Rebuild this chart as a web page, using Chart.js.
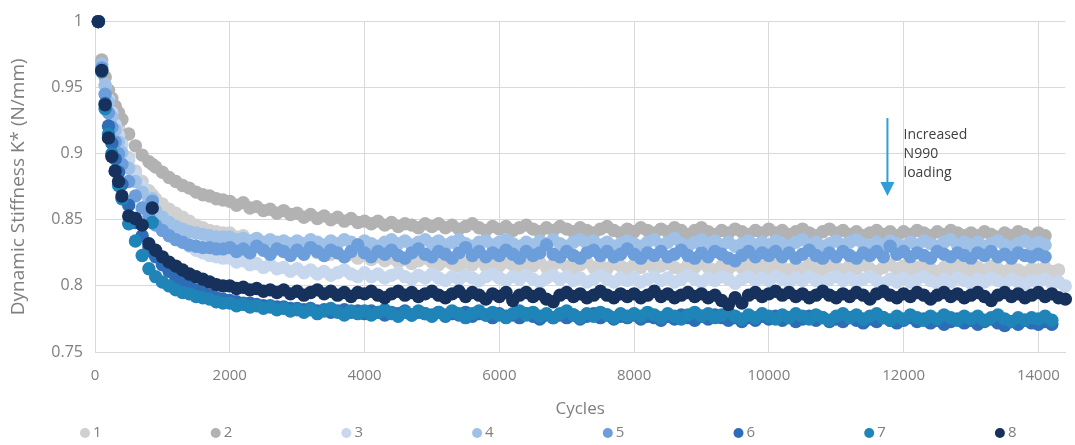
<!DOCTYPE html>
<html>
<head>
<meta charset="utf-8">
<script src="https://cdn.jsdelivr.net/npm/chart.js@4"></script>
<style>
  html, body { margin: 0; padding: 0; background: #fff; }
  #wrap { width: 1075px; height: 445px; }
</style>
</head>
<body>
<div id="wrap"><canvas id="stiffChart"></canvas></div>
<script>
// cycle counts shared by all series (some series run a little longer)
const cycles = [
  50, 100, 150, 200, 250, 300, 350, 400, 500, 600, 700, 800, 850, 900,
  1000, 1100, 1200, 1300, 1400, 1500, 1600, 1700, 1800, 1900,
  2000, 2100, 2200, 2300, 2400, 2500, 2600, 2700, 2800, 2900,
  3000, 3100, 3200, 3300, 3400, 3500, 3600, 3700, 3800, 3900,
  4000, 4100, 4200, 4300, 4400, 4500, 4600, 4700, 4800, 4900,
  5000, 5100, 5200, 5300, 5400, 5500, 5600, 5700, 5800, 5900,
  6000, 6100, 6200, 6300, 6400, 6500, 6600, 6700, 6800, 6900,
  7000, 7100, 7200, 7300, 7400, 7500, 7600, 7700, 7800, 7900,
  8000, 8100, 8200, 8300, 8400, 8500, 8600, 8700, 8800, 8900,
  9000, 9100, 9200, 9300, 9400, 9500, 9600, 9700, 9800, 9900,
  10000, 10100, 10200, 10300, 10400, 10500, 10600, 10700, 10800, 10900,
  11000, 11100, 11200, 11300, 11400, 11500, 11600, 11700, 11800, 11900,
  12000, 12100, 12200, 12300, 12400, 12500, 12600, 12700, 12800, 12900,
  13000, 13100, 13200, 13300, 13400, 13500, 13600, 13700, 13800, 13900,
  14000, 14100, 14200, 14300, 14400
];

const xTicks = [0, 2000, 4000, 6000, 8000, 10000, 12000, 14000];
const labels = ['1', '2', '3', '4', '5', '6', '7', '8'];
const colors = ['#d0d0d0', '#b2b2b2', '#c6d7ee', '#9fc1e7', '#6c9edb', '#2e6db5', '#1f84b7', '#15315c'];

const s1 = [1.000, 0.968, 0.958, 0.948, 0.938, 0.929, 0.920, 0.912, 0.897, 0.887, 0.879, 0.872, 0.869, 0.866,
  0.862, 0.858, 0.855, 0.852, 0.849, 0.846, 0.844, 0.842, 0.841, 0.840,
  0.840, 0.837, 0.838, 0.834, 0.835, 0.832, 0.833, 0.830, 0.831, 0.828,
  0.830, 0.827, 0.828, 0.825, 0.827, 0.824, 0.825, 0.822, 0.824, 0.821,
  0.823, 0.820, 0.822, 0.819, 0.821, 0.818, 0.820, 0.817, 0.819, 0.821,
  0.818, 0.816, 0.819, 0.817, 0.815, 0.818, 0.816, 0.819, 0.815, 0.817,
  0.815, 0.818, 0.816, 0.814, 0.817, 0.815, 0.818, 0.814, 0.816, 0.818,
  0.815, 0.813, 0.816, 0.818, 0.814, 0.816, 0.813, 0.817, 0.815, 0.813,
  0.816, 0.814, 0.817, 0.813, 0.815, 0.817, 0.814, 0.812, 0.816, 0.814,
  0.817, 0.814, 0.812, 0.815, 0.813, 0.816, 0.814, 0.817, 0.813, 0.815,
  0.813, 0.816, 0.814, 0.812, 0.815, 0.813, 0.816, 0.814, 0.812, 0.815,
  0.814, 0.812, 0.815, 0.813, 0.816, 0.813, 0.811, 0.814, 0.816, 0.813,
  0.815, 0.812, 0.814, 0.816, 0.813, 0.811, 0.814, 0.812, 0.815, 0.813,
  0.811, 0.814, 0.812, 0.815, 0.813, 0.811, 0.814, 0.812, 0.810, 0.813,
  0.812, 0.814, 0.811, 0.812];
const s2 = [1.000, 0.971, 0.958, 0.948, 0.942, 0.936, 0.931, 0.926, 0.915, 0.906, 0.899, 0.894, 0.892, 0.890,
  0.886, 0.882, 0.879, 0.876, 0.874, 0.871, 0.869, 0.868, 0.866, 0.865,
  0.864, 0.861, 0.863, 0.859, 0.860, 0.857, 0.858, 0.855, 0.857, 0.854,
  0.855, 0.852, 0.854, 0.851, 0.853, 0.850, 0.852, 0.849, 0.851, 0.848,
  0.849, 0.847, 0.849, 0.846, 0.848, 0.845, 0.847, 0.846, 0.844, 0.847,
  0.845, 0.847, 0.844, 0.846, 0.843, 0.845, 0.847, 0.844, 0.842, 0.845,
  0.843, 0.845, 0.842, 0.844, 0.846, 0.843, 0.841, 0.844, 0.842, 0.845,
  0.843, 0.841, 0.844, 0.842, 0.840, 0.843, 0.845, 0.842, 0.840, 0.843,
  0.841, 0.844, 0.842, 0.840, 0.843, 0.841, 0.844, 0.842, 0.839, 0.842,
  0.844, 0.841, 0.839, 0.842, 0.840, 0.843, 0.841, 0.839, 0.842, 0.840,
  0.843, 0.840, 0.842, 0.839, 0.841, 0.843, 0.840, 0.838, 0.841, 0.843,
  0.840, 0.842, 0.839, 0.841, 0.838, 0.840, 0.842, 0.839, 0.841, 0.838,
  0.841, 0.839, 0.842, 0.840, 0.838, 0.841, 0.839, 0.842, 0.840, 0.838,
  0.840, 0.838, 0.841, 0.839, 0.837, 0.840, 0.838, 0.841, 0.839, 0.837,
  0.840, 0.838];
const s3 = [1.000, 0.966, 0.952, 0.941, 0.931, 0.922, 0.914, 0.907, 0.895, 0.884, 0.875, 0.866, 0.861, 0.857,
  0.850, 0.844, 0.838, 0.834, 0.830, 0.827, 0.825, 0.823, 0.822, 0.821,
  0.821, 0.818, 0.819, 0.816, 0.817, 0.814, 0.816, 0.813, 0.814, 0.811,
  0.813, 0.810, 0.812, 0.809, 0.811, 0.808, 0.810, 0.812, 0.809, 0.807,
  0.810, 0.807, 0.809, 0.806, 0.808, 0.810, 0.807, 0.805, 0.808, 0.806,
  0.809, 0.806, 0.804, 0.807, 0.805, 0.808, 0.806, 0.804, 0.807, 0.809,
  0.806, 0.804, 0.807, 0.805, 0.808, 0.805, 0.803, 0.806, 0.808, 0.805,
  0.807, 0.804, 0.806, 0.803, 0.805, 0.808, 0.805, 0.803, 0.806, 0.804,
  0.806, 0.803, 0.805, 0.807, 0.804, 0.806, 0.803, 0.805, 0.808, 0.805,
  0.803, 0.806, 0.804, 0.807, 0.805, 0.802, 0.805, 0.807, 0.804, 0.806,
  0.804, 0.807, 0.805, 0.803, 0.806, 0.804, 0.807, 0.804, 0.802, 0.805,
  0.807, 0.804, 0.806, 0.803, 0.805, 0.807, 0.804, 0.802, 0.805, 0.803,
  0.806, 0.803, 0.805, 0.807, 0.804, 0.802, 0.805, 0.803, 0.806, 0.804,
  0.802, 0.805, 0.803, 0.806, 0.804, 0.802, 0.805, 0.803, 0.801, 0.804,
  0.803, 0.805, 0.802, 0.803, 0.800];
const s4 = [1.000, 0.968, 0.952, 0.939, 0.928, 0.918, 0.909, 0.901, 0.889, 0.879, 0.871, 0.864, 0.866, 0.857,
  0.852, 0.848, 0.845, 0.843, 0.841, 0.840, 0.839, 0.838, 0.837, 0.837,
  0.837, 0.835, 0.836, 0.834, 0.836, 0.833, 0.835, 0.833, 0.834, 0.832,
  0.834, 0.832, 0.835, 0.833, 0.831, 0.834, 0.832, 0.835, 0.833, 0.831,
  0.834, 0.832, 0.830, 0.833, 0.835, 0.832, 0.834, 0.831, 0.833, 0.835,
  0.832, 0.834, 0.831, 0.833, 0.835, 0.832, 0.830, 0.833, 0.834, 0.831,
  0.833, 0.835, 0.832, 0.830, 0.833, 0.831, 0.834, 0.832, 0.835, 0.832,
  0.830, 0.833, 0.835, 0.832, 0.834, 0.831, 0.833, 0.830, 0.832, 0.834,
  0.832, 0.830, 0.833, 0.835, 0.831, 0.833, 0.836, 0.832, 0.830, 0.833,
  0.835, 0.832, 0.834, 0.831, 0.833, 0.830, 0.832, 0.834, 0.831, 0.833,
  0.831, 0.834, 0.832, 0.830, 0.833, 0.835, 0.831, 0.833, 0.830, 0.832,
  0.834, 0.831, 0.833, 0.835, 0.832, 0.830, 0.833, 0.831, 0.834, 0.832,
  0.830, 0.833, 0.831, 0.834, 0.832, 0.830, 0.833, 0.835, 0.831, 0.833,
  0.831, 0.833, 0.830, 0.832, 0.834, 0.831, 0.829, 0.832, 0.834, 0.831,
  0.833, 0.831];
const s5 = [1.000, 0.965, 0.945, 0.931, 0.920, 0.909, 0.900, 0.892, 0.879, 0.868, 0.859, 0.852, 0.864, 0.846,
  0.842, 0.838, 0.835, 0.833, 0.831, 0.830, 0.829, 0.829, 0.828, 0.828,
  0.829, 0.826, 0.828, 0.825, 0.830, 0.827, 0.824, 0.828, 0.826, 0.823,
  0.827, 0.824, 0.829, 0.826, 0.823, 0.827, 0.825, 0.822, 0.826, 0.831,
  0.825, 0.822, 0.826, 0.824, 0.827, 0.823, 0.821, 0.825, 0.828, 0.824,
  0.822, 0.826, 0.824, 0.821, 0.825, 0.829, 0.823, 0.826, 0.822, 0.825,
  0.823, 0.827, 0.824, 0.821, 0.826, 0.823, 0.825, 0.831, 0.824, 0.822,
  0.826, 0.823, 0.821, 0.825, 0.827, 0.823, 0.826, 0.822, 0.824, 0.828,
  0.824, 0.821, 0.825, 0.823, 0.826, 0.822, 0.824, 0.827, 0.823, 0.821,
  0.825, 0.822, 0.826, 0.824, 0.821, 0.819, 0.823, 0.826, 0.822, 0.825,
  0.823, 0.826, 0.822, 0.825, 0.821, 0.824, 0.827, 0.823, 0.821, 0.825,
  0.822, 0.826, 0.823, 0.821, 0.825, 0.823, 0.826, 0.822, 0.830, 0.824,
  0.826, 0.822, 0.825, 0.823, 0.821, 0.826, 0.824, 0.822, 0.825, 0.823,
  0.821, 0.825, 0.823, 0.826, 0.822, 0.824, 0.821, 0.825, 0.823, 0.822,
  0.824, 0.822];
const s6 = [1.000, 0.963, 0.938, 0.921, 0.908, 0.896, 0.886, 0.877, 0.861, 0.848, 0.838, 0.829, 0.826, 0.822,
  0.816, 0.811, 0.806, 0.803, 0.800, 0.797, 0.795, 0.793, 0.791, 0.790,
  0.789, 0.788, 0.787, 0.787, 0.786, 0.785, 0.785, 0.784, 0.784, 0.783,
  0.783, 0.782, 0.783, 0.781, 0.782, 0.780, 0.781, 0.782, 0.780, 0.781,
  0.779, 0.781, 0.780, 0.778, 0.780, 0.779, 0.781, 0.778, 0.780, 0.779,
  0.778, 0.780, 0.777, 0.779, 0.778, 0.780, 0.777, 0.779, 0.778, 0.776,
  0.779, 0.777, 0.778, 0.776, 0.779, 0.777, 0.775, 0.778, 0.776, 0.778,
  0.776, 0.778, 0.775, 0.777, 0.779, 0.776, 0.778, 0.775, 0.777, 0.776,
  0.778, 0.775, 0.777, 0.776, 0.774, 0.777, 0.775, 0.778, 0.776, 0.774,
  0.777, 0.775, 0.778, 0.776, 0.774, 0.776, 0.773, 0.776, 0.774, 0.777,
  0.775, 0.777, 0.774, 0.776, 0.773, 0.775, 0.777, 0.774, 0.776, 0.773,
  0.775, 0.773, 0.776, 0.774, 0.772, 0.775, 0.773, 0.776, 0.774, 0.772,
  0.774, 0.776, 0.773, 0.775, 0.772, 0.774, 0.771, 0.773, 0.775, 0.772,
  0.774, 0.771, 0.773, 0.775, 0.772, 0.770, 0.773, 0.771, 0.774, 0.772,
  0.771, 0.773, 0.771];
const s7 = [1.000, 0.962, 0.934, 0.915, 0.900, 0.887, 0.876, 0.866, 0.847, 0.834, 0.823, 0.813, 0.848, 0.807,
  0.803, 0.800, 0.797, 0.795, 0.794, 0.792, 0.791, 0.790, 0.788, 0.787,
  0.787, 0.785, 0.786, 0.784, 0.785, 0.783, 0.784, 0.782, 0.783, 0.781,
  0.782, 0.780, 0.782, 0.779, 0.781, 0.783, 0.780, 0.778, 0.781, 0.779,
  0.781, 0.778, 0.780, 0.782, 0.779, 0.777, 0.780, 0.778, 0.781, 0.779,
  0.777, 0.780, 0.778, 0.781, 0.779, 0.776, 0.779, 0.781, 0.778, 0.780,
  0.778, 0.776, 0.779, 0.781, 0.778, 0.780, 0.777, 0.779, 0.776, 0.779,
  0.781, 0.778, 0.776, 0.779, 0.777, 0.780, 0.778, 0.776, 0.779, 0.777,
  0.779, 0.777, 0.780, 0.778, 0.776, 0.779, 0.777, 0.775, 0.778, 0.780,
  0.777, 0.779, 0.776, 0.778, 0.780, 0.777, 0.775, 0.778, 0.776, 0.779,
  0.777, 0.775, 0.778, 0.776, 0.779, 0.777, 0.775, 0.778, 0.776, 0.774,
  0.777, 0.779, 0.776, 0.778, 0.775, 0.777, 0.779, 0.776, 0.774, 0.777,
  0.775, 0.778, 0.776, 0.774, 0.777, 0.775, 0.778, 0.776, 0.774, 0.777,
  0.775, 0.777, 0.774, 0.776, 0.778, 0.775, 0.773, 0.776, 0.774, 0.776,
  0.775, 0.777, 0.774];
const s8 = [1.000, 0.963, 0.937, 0.912, 0.898, 0.887, 0.879, 0.868, 0.853, 0.851, 0.846, 0.832, 0.859, 0.827,
  0.822, 0.818, 0.815, 0.812, 0.809, 0.807, 0.805, 0.803, 0.801, 0.800,
  0.800, 0.798, 0.799, 0.797, 0.798, 0.796, 0.797, 0.795, 0.797, 0.794,
  0.796, 0.793, 0.795, 0.797, 0.794, 0.796, 0.793, 0.795, 0.792, 0.795,
  0.794, 0.796, 0.793, 0.791, 0.794, 0.796, 0.793, 0.795, 0.792, 0.794,
  0.796, 0.793, 0.791, 0.794, 0.796, 0.792, 0.795, 0.793, 0.790, 0.794,
  0.792, 0.795, 0.789, 0.793, 0.795, 0.792, 0.794, 0.790, 0.788, 0.793,
  0.795, 0.792, 0.794, 0.791, 0.793, 0.796, 0.793, 0.791, 0.794, 0.792,
  0.794, 0.791, 0.793, 0.796, 0.792, 0.794, 0.791, 0.793, 0.795, 0.792,
  0.794, 0.791, 0.793, 0.789, 0.786, 0.791, 0.787, 0.793, 0.795, 0.792,
  0.794, 0.796, 0.793, 0.795, 0.792, 0.794, 0.791, 0.793, 0.796, 0.793,
  0.791, 0.794, 0.792, 0.795, 0.793, 0.790, 0.794, 0.796, 0.793, 0.791,
  0.794, 0.792, 0.795, 0.793, 0.790, 0.793, 0.795, 0.792, 0.794, 0.791,
  0.793, 0.795, 0.792, 0.789, 0.793, 0.795, 0.792, 0.794, 0.791, 0.793,
  0.795, 0.792, 0.794, 0.791, 0.790];

const series = [s1, s2, s3, s4, s5, s6, s7, s8];

// arrow note, in data units
const noteArrowX = 11760, noteArrowTop = 0.927, noteArrowTip = 0.868;
const noteTextX = 12000, noteTextY = 0.914;
const noteLines = ['Increased', 'N990', 'loading'];

const textGray = '#7f7f7f';
const gridGray = '#d9d9d9';

Chart.defaults.font.family = "'Open Sans', 'DejaVu Sans', sans-serif";

const datasets = series.map((vals, i) => ({
  label: labels[i],
  data: vals.map((v, j) => ({ x: cycles[j], y: v })),
  backgroundColor: colors[i],
  borderColor: colors[i],
  pointRadius: 6.7,
  pointBorderWidth: 0,
  order: series.length - i,
  clip: false
}));

const noteArrow = {
  id: 'noteArrow',
  afterDatasetsDraw(chart) {
    const { ctx, scales: { x, y } } = chart;
    const ax = x.getPixelForValue(noteArrowX);
    const top = y.getPixelForValue(noteArrowTop);
    const tip = y.getPixelForValue(noteArrowTip);
    ctx.save();
    ctx.strokeStyle = '#2e9fd8';
    ctx.fillStyle = '#2e9fd8';
    ctx.lineWidth = 2;
    ctx.beginPath();
    ctx.moveTo(ax, top);
    ctx.lineTo(ax, tip - 12);
    ctx.stroke();
    ctx.beginPath();
    ctx.moveTo(ax - 7, tip - 14);
    ctx.lineTo(ax + 7, tip - 14);
    ctx.lineTo(ax, tip);
    ctx.closePath();
    ctx.fill();

    ctx.fillStyle = '#404040';
    ctx.font = "14px 'Open Sans', sans-serif";
    ctx.textAlign = 'left';
    ctx.textBaseline = 'middle';
    const tx = x.getPixelForValue(noteTextX);
    const ty = y.getPixelForValue(noteTextY);
    noteLines.forEach((t, k) => ctx.fillText(t, tx, ty + k * 19));
    ctx.restore();
  }
};

// Excel style legend: entries spread evenly along the bottom
const spreadLegend = {
  id: 'spreadLegend',
  afterDraw(chart) {
    const ctx = chart.ctx;
    const startX = 85, step = 130.7, ly = 433;
    ctx.save();
    ctx.font = "15px 'Open Sans', sans-serif";
    ctx.textBaseline = 'middle';
    ctx.textAlign = 'left';
    chart.data.datasets.forEach((ds, i) => {
      const cx = startX + i * step;
      ctx.fillStyle = ds.backgroundColor;
      ctx.beginPath();
      ctx.arc(cx, ly, 5, 0, Math.PI * 2);
      ctx.fill();
      ctx.fillStyle = textGray;
      ctx.fillText(ds.label, cx + 8, ly);
    });
    ctx.restore();
  }
};

new Chart(document.getElementById('stiffChart'), {
  type: 'scatter',
  data: { datasets },
  options: {
    responsive: true,
    maintainAspectRatio: false,
    animation: false,
    events: [],
    layout: { padding: { top: 19, right: 7, bottom: 26, left: 0 } },
    plugins: {
      legend: { display: false },
      tooltip: { enabled: false }
    },
    scales: {
      x: {
        type: 'linear',
        min: 0,
        max: 14400,
        afterBuildTicks: s => { s.ticks = xTicks.map(v => ({ value: v })); },
        afterFit: s => { s.height = 67; },
        ticks: { color: textGray, font: { size: 15 }, padding: 15, maxRotation: 0, autoSkip: false, callback: v => String(v) },
        grid: { color: gridGray, drawTicks: false },
        border: { color: gridGray },
        title: { display: true, text: 'Cycles', color: textGray, font: { size: 17 }, padding: { top: 0, bottom: 0 } }
      },
      y: {
        min: 0.75,
        max: 1,
        afterFit: s => { s.width = 95; },
        ticks: { stepSize: 0.05, color: textGray, font: { size: 16 }, padding: 12, callback: v => String(+v.toFixed(2)) },
        grid: { color: gridGray, drawTicks: false },
        border: { color: gridGray },
        title: { display: true, text: 'Dynamic Stiffness K* (N/mm)', color: textGray, font: { size: 19 }, padding: { top: 7, bottom: 0 } }
      }
    }
  },
  plugins: [noteArrow, spreadLegend]
});
</script>
</body>
</html>
